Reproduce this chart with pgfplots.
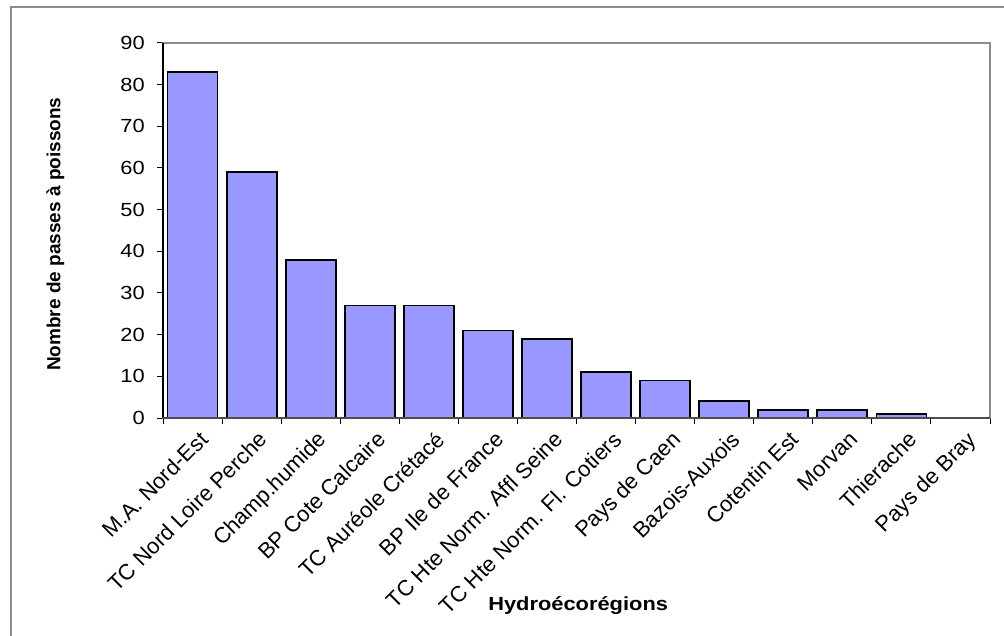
\documentclass[border=0pt]{standalone}
\usepackage{fontspec}
\setmainfont{Liberation Sans}
\newfontfamily\stretched[FakeStretch=1.15]{Liberation Sans}
\usepackage{pgfplots}
\pgfplotsset{compat=1.18}
\definecolor{barfill}{HTML}{9999FF}
\definecolor{framegray}{HTML}{8C8C8C}
\begin{document}
\begin{tikzpicture}
\useasboundingbox (0,0) rectangle (1004bp,636bp);
\draw[framegray, line width=1.3bp] (11bp,0) -- (11bp,629bp) -- (1004bp,629bp);
\begin{axis}[
  at={(163bp,218bp)}, anchor=south west,
  scale only axis, width=827bp, height=375bp,
  xmin=-0.5, xmax=13.5, ymin=0, ymax=90,
  ytick={0,10,...,90},
  ytick pos=left, xtick pos=bottom,
  tick align=outside,
  major tick length=6bp, minor tick length=6bp,
  /pgf/number format/assume math mode=true,
  xtick={0,...,13},
  xticklabels={M.A. Nord-Est, TC Nord Loire Perche, Champ.humide, BP Cote Calcaire, TC Auréole Crétacé, BP Ile de France, TC Hte Norm. Affl Seine, TC Hte Norm. Fl. Cotiers, Pays de Caen, Bazois-Auxois, Cotentin Est, Morvan, Thierache, Pays de Bray},
  minor xtick={-0.5,0.5,...,13.5},
  major x tick style={draw=none},
  minor x tick style={draw=black, line width=1bp},
  major y tick style={draw=black, line width=1bp},
  xticklabel style={rotate=45, anchor=north east, font=\fontsize{22bp}{24bp}\selectfont, inner sep=1bp, yshift=-7bp, xshift=1bp},
  yticklabel style={font=\stretched\fontsize{19bp}{22bp}\selectfont, inner sep=2bp, xshift=-10bp},
  axis line style={draw=framegray, line width=2bp},
  xlabel={Hydroécorégions},
  ylabel={Nombre de passes à poissons},
  xlabel style={font=\stretched\fontsize{19bp}{22bp}\selectfont\bfseries, at={(axis description cs:0.502,-0.501)}, anchor=center},
  ylabel style={font=\fontsize{19bp}{22bp}\selectfont\bfseries, at={(axis description cs:-0.13,0.49)}, anchor=center},
  clip=false,
]
\addplot[ybar, bar width=50bp, fill=barfill, draw=black, line width=1.8bp] coordinates {
(0,83) (1,59) (2,38) (3,27) (4,27) (5,21) (6,19) (7,11) (8,9) (9,4) (10,2) (11,2) (12,1) (13,0)
};
\draw[black, line width=1.2bp] (rel axis cs:0,0) -- (rel axis cs:0,1);
\draw[black!70, line width=1.5bp] (rel axis cs:0,0) -- (rel axis cs:1,0);
\end{axis}
\end{tikzpicture}
\end{document}
